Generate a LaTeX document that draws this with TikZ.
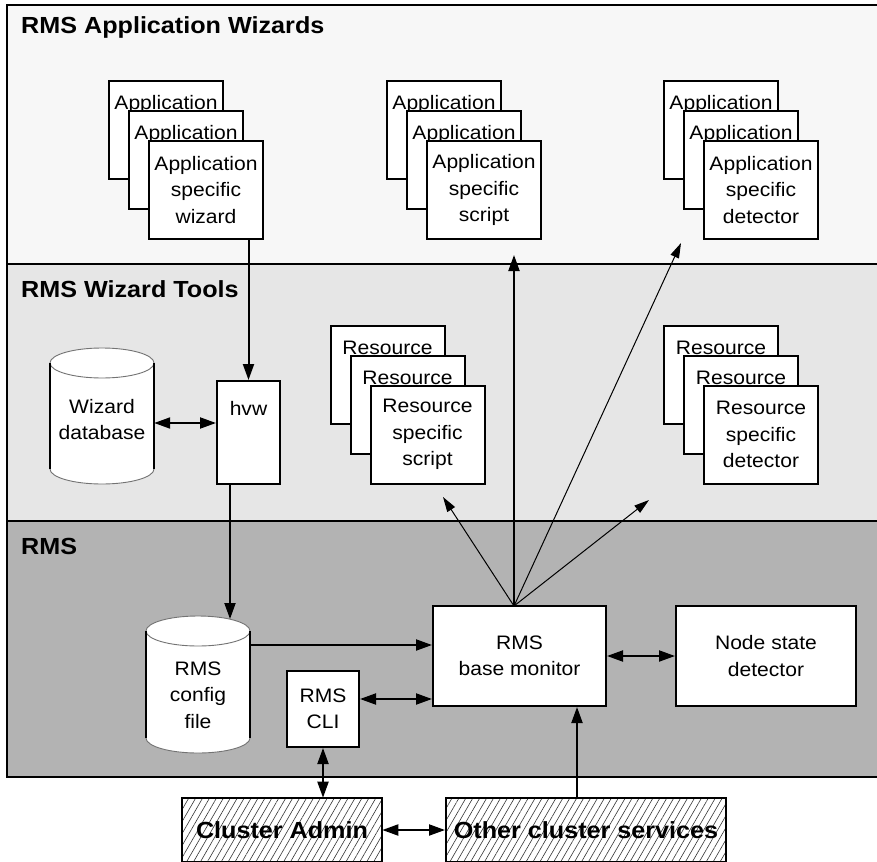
\documentclass[tikz,border=0pt]{standalone}
\usepackage{fontspec}
\setmainfont{Liberation Sans}[FakeStretch=1.08]
\usetikzlibrary{arrows.meta,patterns.meta}
\definecolor{bandA}{HTML}{F7F7F7}
\definecolor{bandB}{HTML}{E6E6E6}
\definecolor{bandC}{HTML}{B3B3B3}
\tikzset{
 reg/.style={font=\fontsize{19.5}{26.5}\selectfont},
 card/.style={draw, line width=2pt, fill=white, minimum width=114pt, minimum height=98pt, inner sep=0pt, align=center, reg},
 backcard/.style={card, text height=14pt, text depth=54pt},
 plainbox/.style={draw, line width=2pt, fill=white, inner sep=0pt, align=center, reg},
 hatchbox/.style={draw, line width=2pt, pattern={Lines[angle=60,distance=6pt,line width=0.6pt]}, pattern color=black!80, inner sep=0pt, minimum height=64pt, font=\bfseries\fontsize{23.3}{28}\selectfont},
 title/.style={anchor=base west, inner sep=0pt, font=\bfseries\fontsize{23.3}{28}\selectfont},
 conn/.style={line width=2pt, -{Triangle[length=16pt,width=11pt]}},
 dconn/.style={line width=2pt, {Triangle[length=16pt,width=11pt]}-{Triangle[length=16pt,width=11pt]}},
 fanline/.style={line width=1pt, -{Triangle[length=15pt,width=9pt]}},
 cyltext/.style={minimum width=104pt, inner sep=0pt, align=center, reg},
 cylarc/.style={draw=black!55, line width=0.9pt},
 cylside/.style={line width=2pt}
}
\begin{document}
\begin{tikzpicture}[x=1pt,y=-1pt]
\useasboundingbox (0,0) rectangle (877,861);
% bands
\fill[bandA] (7,5) rectangle (880,264);
\fill[bandB] (7,264) rectangle (880,521);
\fill[bandC] (7,521) rectangle (880,777);
\draw[line width=2pt] (7,5) rectangle (880,777);
\draw[line width=2pt] (7,264) -- (880,264);
\draw[line width=2pt] (7,521) -- (880,521);
% titles
\node[title] (t1) at (21,34) {RMS Application Wizards};
\node[title] (t2) at (21,297) {RMS Wizard Tools};
\node[title] (t3) at (21,554) {RMS};
% application wizard stack
\node[backcard] (wizA) at (166,130) {Application};
\node[backcard] (wizB) at (186,160) {Application};
\node[card] (wizF) at (206,190) {Application\\specific\\wizard};
% application script stack
\node[backcard] (scrA) at (444,130) {Application};
\node[backcard] (scrB) at (464,160) {Application};
\node[card] (scrF) at (484,190) {Application\\specific\\script};
% application detector stack
\node[backcard] (detA) at (721,130) {Application};
\node[backcard] (detB) at (741,160) {Application};
\node[card] (detF) at (761,190) {Application\\specific\\detector};
% resource script stack
\node[backcard] (rscA) at (387.5,374.5) {Resource};
\node[backcard] (rscB) at (407.5,404.5) {Resource};
\node[card] (rscF) at (427.5,434.5) {Resource\\specific\\script};
% resource detector stack
\node[backcard] (rdtA) at (721,374.5) {Resource};
\node[backcard] (rdtB) at (741,404.5) {Resource};
\node[card] (rdtF) at (761,434.5) {Resource\\specific\\detector};
% wizard database cylinder
\fill[white] (50,363) rectangle (154,469);
\fill[white] (102,363) ellipse [x radius=52, y radius=15];
\fill[white] (102,469) ellipse [x radius=52, y radius=15];
\draw[cylarc] (102,363) ellipse [x radius=52, y radius=15];
\draw[cylarc] (50,469) .. controls (50,477.3) and (73.3,484) .. (102,484) .. controls (130.7,484) and (154,477.3) .. (154,469);
\draw[cylside] (50,363) -- (50,469);
\draw[cylside] (154,363) -- (154,469);
\node[cyltext] (db) at (102,419.5) {Wizard\\database};
% hvw
\node[plainbox, minimum width=63pt, minimum height=103pt, text height=14pt, text depth=49pt] (hvw) at (248.5,432.5) {hvw};
% config file cylinder
\fill[white] (146,631) rectangle (250,738);
\fill[white] (198,631) ellipse [x radius=52, y radius=15];
\fill[white] (198,738) ellipse [x radius=52, y radius=15];
\draw[cylarc] (198,631) ellipse [x radius=52, y radius=15];
\draw[cylarc] (146,738) .. controls (146,746.3) and (169.3,753) .. (198,753) .. controls (226.7,753) and (250,746.3) .. (250,738);
\draw[cylside] (146,631) -- (146,738);
\draw[cylside] (250,631) -- (250,738);
\node[cyltext] (cfg) at (198,695) {RMS\\config\\file};
% RMS boxes
\node[plainbox, minimum width=173pt, minimum height=100pt] (base) at (519.5,656) {RMS\\base monitor};
\node[plainbox, minimum width=180pt, minimum height=100pt] (nsd) at (766,656) {Node state\\detector};
\node[plainbox, minimum width=72pt, minimum height=76pt] (cli) at (323,709) {RMS\\CLI};
% external
\node[hatchbox, minimum width=200pt] (adm) at (282,830) {Cluster Admin};
\node[hatchbox, minimum width=280pt] (oth) at (586,830) {Other cluster services};
% coordinates
\coordinate (cfgtop) at (230,619);
\coordinate (cfgout) at (250,645);
\coordinate (fan) at (514,606);
\coordinate (endS) at (514,255);
\coordinate (endD) at (681,243);
\coordinate (endRS) at (443,497);
\coordinate (endRD) at (649,500);
% connectors
\draw[conn] (wizF.south -| hvw.north) -- (hvw.north);
\draw[dconn] ([yshift=9.5pt]hvw.west) -- ([yshift=9.5pt]hvw.west -| db.east);
\draw[conn] (hvw.south -| cfgtop) -- (cfgtop);
\draw[conn] (cfgout) -- (cfgout -| base.west);
\draw[dconn] ([yshift=10pt]cli.east) -- ([yshift=10pt]cli.east -| base.west);
\draw[dconn] (base.east) -- (nsd.west);
\draw[dconn] (cli.south) -- (cli.south |- adm.north);
\draw[dconn] (adm.east) -- (oth.west);
\draw[conn] ([xshift=-9pt]oth.north) -- ([xshift=-9pt]oth.north |- base.south);
\draw[conn] (fan) -- (endS);
\draw[fanline] (fan) -- (endD);
\draw[fanline] (fan) -- (endRS);
\draw[fanline] (fan) -- (endRD);
\end{tikzpicture}
\end{document}
